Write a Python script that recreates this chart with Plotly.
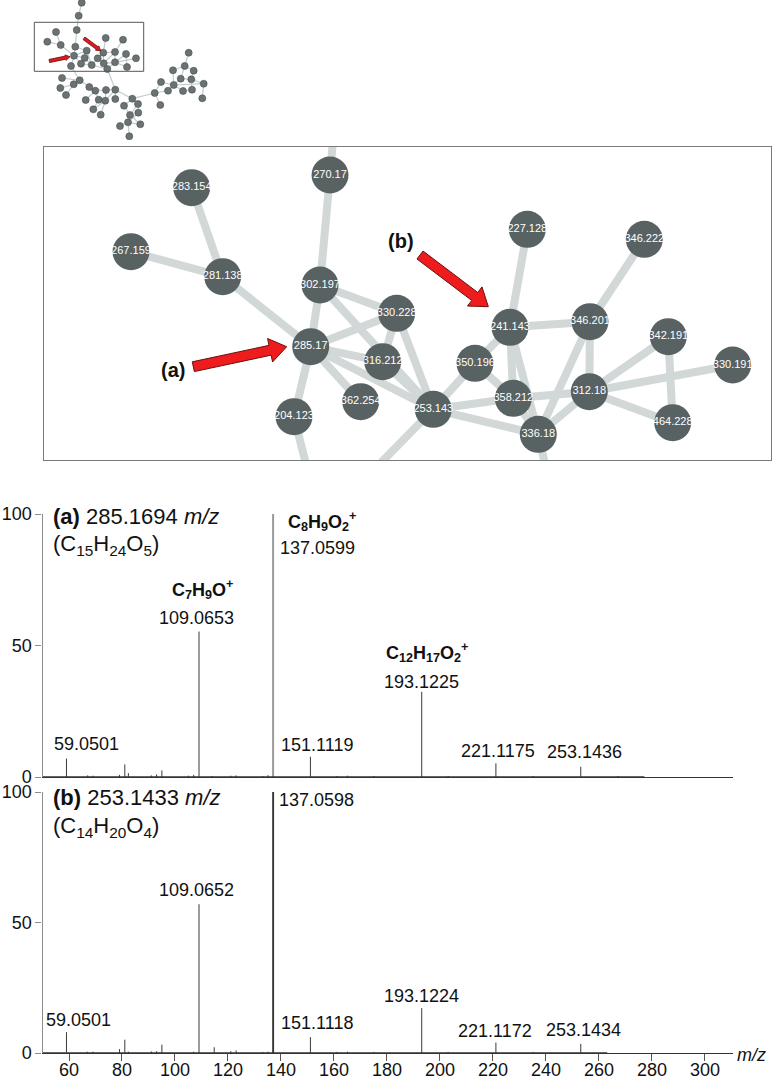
import numpy as np
import plotly.graph_objects as go

W, H = 772, 1080
FONT = "Arial, Liberation Sans, sans-serif"

# ---------------- thumbnail network (overview) ----------------
thumb_x = [81.7, 78.7, 76.7, 56, 47.3, 60.7, 75.3, 86.7, 74, 84.7, 81, 71, 91.7, 97.7, 103.3,
           105.7, 123, 115, 126, 136, 103.7, 115, 127, 107.3, 62, 79.7, 60.3, 73.7, 66, 89.3,
           95.3, 106, 115.3, 85.7, 98.7, 105.3, 115.3, 132.3, 93.3, 100.7, 124, 138, 130, 138.3,
           128, 140.3, 120, 129.3, 154.7, 160.3, 161, 168, 173, 173.7, 180.7, 184.7, 188.7,
           193.7, 191.3, 183, 192, 203.7, 202.3]
thumb_y = [2.7, 15.7, 30, 32, 41.7, 45, 46.7, 50.7, 55.7, 58, 63.7, 66, 65, 58.3, 52.7,
           38, 39.7, 52, 54, 58.3, 63.3, 62.3, 67, 69, 78, 80.3, 88, 84.3, 95, 87,
           90.7, 90, 89.7, 100, 99.7, 100.7, 99, 98.7, 109.3, 114.7, 105.7, 104, 115, 112.7,
           122.3, 124.3, 126, 136.3, 93, 105, 82, 90.7, 70.3, 85, 78.7, 66, 52.7,
           70.7, 79.3, 91, 89.7, 83.7, 98.3]
thumb_edges = [(1, 2), (2, 3), (3, 7), (4, 6), (5, 6), (6, 9), (7, 9), (7, 8), (8, 9), (9, 10), (9, 11),
               (9, 12), (8, 13), (10, 13), (11, 13), (13, 14), (14, 15), (15, 16), (15, 18), (15, 21),
               (18, 17), (18, 22), (18, 21), (19, 22), (20, 22), (19, 23), (22, 23), (21, 22), (21, 24),
               (22, 24), (13, 24), (24, 33), (12, 26), (26, 25), (26, 28), (28, 27), (28, 29), (26, 30),
               (30, 31), (31, 32), (32, 33), (31, 34), (31, 35), (35, 36), (32, 36), (33, 36), (35, 39),
               (36, 39), (36, 40), (33, 37), (33, 38), (38, 41), (38, 42), (41, 43), (42, 43), (42, 44),
               (43, 45), (44, 45), (45, 46), (45, 47), (45, 48), (43, 46), (38, 49), (49, 50), (49, 51),
               (49, 52), (51, 54), (52, 54), (54, 53), (53, 56), (56, 57), (56, 55), (56, 58), (55, 54),
               (55, 59), (58, 59), (54, 60), (54, 62), (59, 62), (59, 61), (60, 61), (62, 63)]
thumb_arrows = [((49.3, 61.0), (70.0, 56.7)), ((84.0, 38.3), (100.7, 50.7))]
thumb_box = (34.3, 22.3, 143.7, 71.3)

# ---------------- zoomed network ----------------
net_labels = ["283.154", "270.17", "267.159", "281.138", "302.197", "330.228", "285.17", "316.212",
              "362.254", "204.123", "227.128", "346.222", "241.143", "346.201", "342.191", "330.191",
              "350.196", "358.212", "312.18", "253.143", "336.18", "464.228"]
net_x = [191.7, 330, 131, 222.7, 320, 396.7, 310.7, 382.7, 360.7, 294, 527.3, 644.3, 510, 590,
         668.3, 732.7, 475, 513.3, 589.3, 433.3, 538.3, 672.7]
net_y = [187.7, 175, 251.7, 276.7, 285, 313.3, 346.7, 361.7, 401.7, 416.7, 229.3, 239.3, 327.3,
         321.7, 336.7, 365, 363.3, 398.3, 391.7, 409.3, 434.3, 422.7]
# edges leaving the visible frame (neighbours outside the zoom window)
out_labels = ["o1", "o2", "o3", "o4"]
out_x = [337, 310, 363, 553]
out_y = [95, 480, 481, 500]
net_edges = [("283.154", "281.138"), ("267.159", "281.138"), ("281.138", "285.17"),
             ("270.17", "302.197"), ("270.17", "o1"), ("302.197", "285.17"), ("302.197", "330.228"),
             ("302.197", "253.143"), ("285.17", "330.228"), ("285.17", "316.212"),
             ("285.17", "362.254"), ("285.17", "204.123"), ("285.17", "253.143"),
             ("204.123", "o2"), ("330.228", "253.143"), ("330.228", "316.212"),
             ("316.212", "253.143"), ("253.143", "350.196"), ("253.143", "358.212"),
             ("253.143", "336.18"), ("253.143", "o3"), ("350.196", "241.143"),
             ("350.196", "358.212"), ("241.143", "227.128"), ("241.143", "346.201"),
             ("241.143", "358.212"), ("241.143", "336.18"), ("346.201", "346.222"),
             ("346.201", "312.18"), ("346.201", "336.18"), ("358.212", "312.18"),
             ("358.212", "336.18"), ("336.18", "312.18"), ("336.18", "o4"), ("312.18", "342.191"),
             ("312.18", "330.191"), ("312.18", "464.228"), ("342.191", "464.228")]
net_arrows = [((193.3, 366.7), (286.7, 346.7)), ((420.0, 255.0), (488.3, 306.7))]
net_arrow_labels = ["(a)", "(b)"]
net_arrow_label_x = [172.7, 401]
net_arrow_label_y = [370, 241]

# ---------------- spectra ----------------
spec_a_mz = [59.0501, 67.05, 69.07, 79.05, 81.07, 82.4, 91.05, 93.07, 95.05, 105.07, 107.05,
             109.0653, 114.0, 121.06, 123.08, 133.1, 135.08, 137.0599, 151.1119, 161.1, 165.09,
             175.11, 193.1225, 203.1, 221.1175, 235.13, 253.1436, 267.15]
spec_a_int = [7.0, 0.6, 0.5, 0.8, 4.8, 1.5, 0.6, 1.0, 2.5, 0.5, 0.8,
              55.3, 0.4, 0.5, 0.6, 0.4, 0.7, 100.0, 7.7, 0.4, 0.5,
              0.4, 32.4, 0.4, 5.2, 0.4, 3.9, 0.4]
spec_b_mz = [59.0501, 66.9, 69.07, 79.05, 81.07, 82.4, 91.05, 93.07, 95.05, 107.05, 109.0652,
             114.8, 121.06, 123.08, 133.1, 135.08, 137.0598, 151.1118, 161.1, 165.09, 175.11,
             193.1224, 203.1, 221.1172, 235.13, 253.1434]
spec_b_int = [8.0, 0.5, 0.5, 1.5, 5.1, 0.5, 0.6, 0.7, 3.2, 0.5, 57.0,
              2.2, 0.7, 1.0, 0.4, 0.5, 100.0, 6.1, 0.4, 0.5, 0.4,
              17.2, 0.4, 4.0, 0.4, 3.5]
mz_ticks = [60, 80, 100, 120, 140, 160, 180, 200, 220, 240, 260, 280, 300]
int_ticks = [0, 50, 100]

# labels: (m/z, intensity, text, xshift, yshift, bold)
labels_a = [(59.0501, 7.0, "59.0501", 20, 15, False),
            (109.0653, 55.3, "109.0653", -3, 14, False),
            (109.0653, 55.3, "C<sub>7</sub>H<sub>9</sub>O<sup>+</sup>", 3, 42, True),
            (137.0599, 100.0, "137.0599", 44, -34, False),
            (137.0599, 100.0, "C<sub>8</sub>H<sub>9</sub>O<sub>2</sub><sup>+</sup>", 49, -8, True),
            (151.1119, 7.7, "151.1119", 7, 12, False),
            (193.1225, 32.4, "193.1225", 0, 10, False),
            (193.1225, 32.4, "C<sub>12</sub>H<sub>17</sub>O<sub>2</sub><sup>+</sup>", 5, 39, True),
            (221.1175, 5.2, "221.1175", 2, 12, False),
            (253.1436, 3.9, "253.1436", 4, 15, False)]
labels_b = [(59.0501, 8.0, "59.0501", 12, 12, False),
            (109.0652, 57.0, "109.0652", -3, 14, False),
            (137.0598, 100.0, "137.0598", 43, -8, False),
            (151.1118, 6.1, "151.1118", 7, 14, False),
            (193.1224, 17.2, "193.1224", 0, 12, False),
            (221.1172, 4.0, "221.1172", -1, 12, False),
            (253.1434, 3.5, "253.1434", 3, 14, False)]
title_a = ["<b>(a)</b> 285.1694 <i>m/z</i>", "(C<sub>15</sub>H<sub>24</sub>O<sub>5</sub>)"]
title_b = ["<b>(b)</b> 253.1433 <i>m/z</i>", "(C<sub>14</sub>H<sub>20</sub>O<sub>4</sub>)"]


def arrow_poly(tail, tip, w, hw, hl):
    t = np.array(tail, float)
    p = np.array(tip, float)
    d = (p - t) / np.linalg.norm(p - t)
    n = np.array([-d[1], d[0]])
    b = p - d * hl
    pts = [t + n * w / 2, b + n * w / 2, b + n * hw / 2, p, b - n * hw / 2, b - n * w / 2,
           t - n * w / 2, t + n * w / 2]
    return [q[0] for q in pts], [q[1] for q in pts]


def segs(xa, ya, pairs):
    xs, ys = [], []
    for i, j in pairs:
        xs += [xa[i], xa[j], None]
        ys += [ya[i], ya[j], None]
    return xs, ys


fig = go.Figure()

# thumbnail
te = [(a - 1, b - 1) for a, b in thumb_edges]
ex, ey = segs(thumb_x, thumb_y, te)
fig.add_trace(go.Scatter(x=ex, y=ey, mode="lines", line=dict(color="#c4cbcb", width=1.2),
                         xaxis="x4", yaxis="y4", hoverinfo="skip"))
fig.add_trace(go.Scatter(x=thumb_x, y=thumb_y, mode="markers",
                         marker=dict(size=7, color="#6a7273", line=dict(color="#4a5152", width=0.6)),
                         xaxis="x4", yaxis="y4", hoverinfo="skip"))
for tail, tip in thumb_arrows:
    ax_, ay_ = arrow_poly(tail, tip, 3.2, 5.5, 4.5)
    fig.add_trace(go.Scatter(x=ax_, y=ay_, mode="lines", fill="toself", fillcolor="#e8161c",
                             line=dict(color="#5a1010", width=0.8), xaxis="x4", yaxis="y4",
                             hoverinfo="skip"))

# zoomed network
allx = dict(zip(net_labels + out_labels, net_x + out_x))
ally = dict(zip(net_labels + out_labels, net_y + out_y))
nx_, ny_ = [], []
for a, b in net_edges:
    nx_ += [allx[a], allx[b], None]
    ny_ += [ally[a], ally[b], None]
fig.add_trace(go.Scatter(x=nx_, y=ny_, mode="lines", line=dict(color="#d1d8d7", width=8),
                         xaxis="x3", yaxis="y3", hoverinfo="skip"))
fig.add_trace(go.Scatter(x=net_x, y=net_y, mode="markers+text", text=net_labels,
                         textposition="middle center",
                         textfont=dict(family=FONT, size=11, color="white"),
                         marker=dict(size=37, color="#596263", line=dict(width=0)),
                         xaxis="x3", yaxis="y3", hoverinfo="skip"))
for tail, tip in net_arrows:
    ax_, ay_ = arrow_poly(tail, tip, 10, 24, 17)
    fig.add_trace(go.Scatter(x=ax_, y=ay_, mode="lines", fill="toself", fillcolor="#ee1c1c",
                             line=dict(color="#6b1010", width=1), xaxis="x3", yaxis="y3",
                             hoverinfo="skip"))

# spectra
def stems(mz, it):
    xs, ys = [], []
    for m, v in zip(mz, it):
        xs += [m, m, None]
        ys += [0, v, None]
    return xs, ys

for mz, it, xa, ya, basecol in [(spec_a_mz, spec_a_int, "x", "y", "#999999"),
                                (spec_b_mz, spec_b_int, "x2", "y2", "#333333")]:
    sx, sy = stems(mz, it)
    fig.add_trace(go.Scatter(x=sx, y=sy, mode="lines", line=dict(color="#3a3a3a", width=1),
                             xaxis=xa, yaxis=ya, hoverinfo="skip"))
    k = it.index(max(it))
    fig.add_trace(go.Scatter(x=[mz[k], mz[k]], y=[0, it[k]], mode="lines",
                             line=dict(color=basecol, width=1.8), xaxis=xa, yaxis=ya,
                             hoverinfo="skip"))
    fig.add_trace(go.Scatter(x=[50, mz[-1] + 10], y=[0, 0], mode="lines",
                             line=dict(color="#333333", width=1.6), xaxis=xa, yaxis=ya,
                             hoverinfo="skip"))

annotations = []
for labs, xr, yr in [(labels_a, "x", "y"), (labels_b, "x2", "y2")]:
    for m, v, txt, dx, dy, bold in labs:
        annotations.append(dict(x=m, y=v, xref=xr, yref=yr, text=("<b>%s</b>" % txt) if bold else txt,
                                showarrow=False, xanchor="center", yanchor="middle",
                                xshift=dx, yshift=dy,
                                font=dict(family=FONT, size=18, color="#111111")))
for ttl, xr, yr, y1, y2 in [(title_a, "x", "y", 99.2, 88.2), (title_b, "x2", "y2", 98.0, 86.6)]:
    annotations.append(dict(x=50, y=y1, xref=xr, yref=yr, text=ttl[0], showarrow=False,
                            xanchor="left", yanchor="middle", xshift=8,
                            font=dict(family=FONT, size=22, color="#111111")))
    annotations.append(dict(x=50, y=y2, xref=xr, yref=yr, text=ttl[1], showarrow=False,
                            xanchor="left", yanchor="middle", xshift=8,
                            font=dict(family=FONT, size=22, color="#111111")))
annotations.append(dict(x=1, y=0, xref="x2 domain", yref="y2", text="<i>m/z</i>", showarrow=False,
                        xanchor="left", yanchor="middle", xshift=2, yshift=-2,
                        font=dict(family=FONT, size=18, color="#111111")))
for t, x, y in zip(net_arrow_labels, net_arrow_label_x, net_arrow_label_y):
    annotations.append(dict(x=x, y=y, xref="x3", yref="y3", text="<b>%s</b>" % t, showarrow=False,
                            xanchor="center", yanchor="middle",
                            font=dict(family=FONT, size=20, color="#111111")))

shapes = [dict(type="rect", xref="x4", yref="y4", x0=thumb_box[0], y0=thumb_box[1],
               x1=thumb_box[2], y1=thumb_box[3], line=dict(color="#555555", width=1))]

def dx_(a, b):
    return [a / W, b / W]

def dy_(top, bot):
    return [1 - bot / H, 1 - top / H]

hidden = dict(visible=True, showgrid=False, zeroline=False, showticklabels=False, ticks="",
              showline=False, automargin=False)
spec_x_dom = dx_(42.5, 733)
xr = [50, 310.6]
fig.update_layout(
    width=W, height=H, margin=dict(l=0, r=0, t=0, b=0, pad=0), autosize=False,
    paper_bgcolor="white", plot_bgcolor="white", showlegend=False,
    font=dict(family=FONT, color="#111111"),
    annotations=annotations, shapes=shapes,
    xaxis=dict(domain=spec_x_dom, range=xr, anchor="y", showgrid=False, zeroline=False,
               showline=True, linecolor="#333333", linewidth=1.3, ticks="", showticklabels=False,
               automargin=False),
    yaxis=dict(domain=dy_(514, 777), range=[0, 100], anchor="x", showgrid=False, zeroline=False,
               showline=True, linecolor="#8c8c8c", linewidth=1.2, tickvals=int_ticks,
               ticks="outside", ticklen=6, tickcolor="#8c8c8c", automargin=False,
               tickfont=dict(family=FONT, size=18, color="#111111")),
    xaxis2=dict(domain=spec_x_dom, range=xr, anchor="y2", showgrid=False, zeroline=False,
                showline=True, linecolor="#333333", linewidth=1.3, tickvals=mz_ticks,
                ticks="outside", ticklen=7, tickcolor="#555555", automargin=False,
                ticklabelstandoff=-7,
                tickfont=dict(family=FONT, size=18, color="#111111")),
    yaxis2=dict(domain=dy_(792, 1053), range=[0, 100], anchor="x2", showgrid=False,
                zeroline=False, showline=True, linecolor="#8c8c8c", linewidth=1.2,
                tickvals=int_ticks, ticks="outside", ticklen=6, tickcolor="#8c8c8c",
                automargin=False, tickfont=dict(family=FONT, size=18, color="#111111")),
    xaxis3=dict(domain=dx_(43.5, 770.5), range=[43.5, 770.5], anchor="y3", showgrid=False,
                zeroline=False, showticklabels=False, ticks="", showline=True, mirror=True,
                linecolor="#7a7a7a", linewidth=1.2, automargin=False),
    yaxis3=dict(domain=dy_(147, 460), range=[460, 147], anchor="x3", showgrid=False,
                zeroline=False, showticklabels=False, ticks="", showline=True, mirror=True,
                linecolor="#7a7a7a", linewidth=1.2, automargin=False),
    xaxis4=dict(domain=dx_(0, 260), range=[0, 260], anchor="y4", **hidden),
    yaxis4=dict(domain=dy_(0, 140), range=[140, 0], anchor="x4", **hidden),
)

fig.write_html("out.html", config={"responsive": False, "displayModeBar": False},
               post_script="document.body.style.margin='0';document.body.style.overflow='hidden';")
